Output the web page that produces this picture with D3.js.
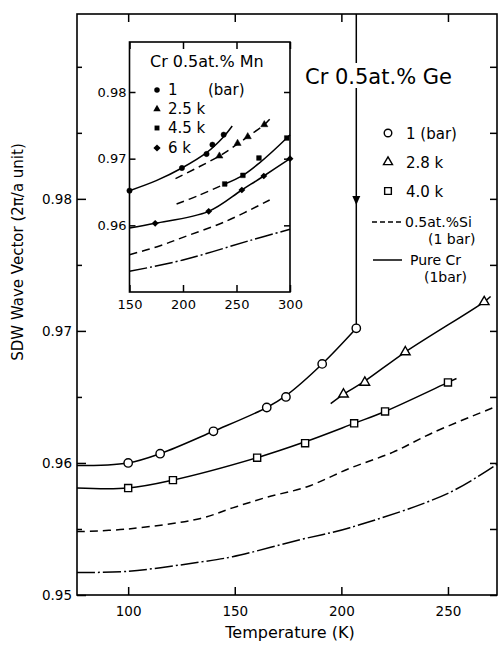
<!DOCTYPE html>
<html><head><meta charset="utf-8">
<script src="https://cdn.jsdelivr.net/npm/d3@7"></script>
<style>
html,body{margin:0;padding:0;background:#fff;}
svg{display:block;font-family:"DejaVu Sans",sans-serif;}
</style></head>
<body>
<svg id="c" width="501" height="645"></svg>
<script>
// ---------- main chart data (Cr 0.5 at.% Ge) ----------
const xTicks = [100, 150, 200, 250];
const yTicks = [0.95, 0.96, 0.97, 0.98];
const yMinor = [0.955, 0.965, 0.975, 0.985, 0.99];
const ge1barPts = [[100,0.9600],[115,0.9607],[140,0.9624],[165,0.9642],[174,0.9650],[191,0.9675],[207,0.9702]];
const ge1barLine = [[76,0.9598],[100,0.9600],[115,0.9607],[140,0.9624],[165,0.9642],[174,0.9651],[191,0.9675],[207,0.9702]];
const ge28Pts = [[201,0.9652],[211,0.9661],[230,0.9684],[267,0.9722]];
const ge28Line = [[195,0.9645],[201,0.9652],[211,0.9662],[230,0.9684],[267,0.9722],[270,0.9726]];
const ge40Pts = [[100,0.9581],[121,0.9587],[160.5,0.9604],[183,0.9615],[206,0.9630],[220.5,0.9639],[250,0.9661]];
const ge40Line = [[76,0.9581],[100,0.9581],[121,0.9587],[160.5,0.9604],[183,0.9616],[206,0.9630],[220.5,0.9639],[250,0.9661],[254,0.9664]];
const si1barLine = [[76,0.9548],[100,0.9550],[134,0.9558],[149,0.9566],[165,0.9574],[184,0.9582],[204,0.9596],[224,0.9608],[243,0.9623],[273,0.9643]];
const pureCrLine = [[76,0.9517],[100,0.9518],[134,0.9525],[149,0.9529],[181,0.9542],[204,0.9551],[250,0.9577],[273,0.9599]];
const transitionT = 207;

// ---------- inset data (Cr 0.5 at.% Mn) ----------
const inXTicks = [150, 200, 250, 300];
const inYTicks = [0.96, 0.97, 0.98];
const mn1Pts = [[150,0.9652],[199,0.9686],[222,0.9707],[227.5,0.9721],[238,0.9736]];
const mn1Line = [[150,0.9652],[175,0.9667],[199,0.9686],[222,0.9709],[238,0.9733],[246,0.9749]];
const mn25Pts = [[234,0.9704],[251,0.9723],[260.5,0.9733],[276,0.9751]];
const mn25Line = [[193,0.9670],[234,0.9704],[251,0.9722],[260.5,0.9733],[276,0.9751],[281,0.9759]];
const mn45Pts = [[239,0.9662],[256,0.9675],[271,0.9701],[297,0.9731]];
const mn45Dash = [[194,0.9632],[215,0.9645],[239,0.9662]];
const mn45Line = [[239,0.9662],[256,0.9675],[271,0.9693],[297,0.9731],[300,0.9736]];
const mn6Pts = [[174,0.9603],[224,0.9621],[255,0.9653],[275.5,0.9674],[300,0.9700]];
const mn6Line = [[150,0.9596],[174,0.9603],[224,0.9621],[255,0.9653],[275.5,0.9674],[300,0.9700]];
const inSiLine = [[150,0.9556],[178,0.9569],[200,0.9582],[240,0.9606],[281,0.9638]];
const inCrLine = [[150,0.9531],[200,0.9548],[262,0.9577],[300,0.9594]];

const svg = d3.select("#c");
const x = d3.scaleLinear().domain([76, 273]).range([77, 497]);
const y = d3.scaleLinear().domain([0.95, 0.994]).range([595, 14]);
const ix = d3.scaleLinear().domain([150, 300]).range([129.5, 290]);
const iy = d3.scaleLinear().domain([0.95, 0.9875]).range([292, 42]);

const DASH = "8,5";
const DASHDOT = "18,3,2,3";

function drawLine(g, data, sx, sy, dash, w) {
  const ln = d3.line().x(d => sx(d[0])).y(d => sy(d[1])).curve(d3.curveCatmullRom.alpha(0.5));
  g.append("path").attr("d", ln(data)).attr("fill", "none").attr("stroke", "#000")
    .attr("stroke-width", w || 1.5).attr("stroke-dasharray", dash || null);
}
function drawMarks(g, data, sx, sy, type, size, filled) {
  g.selectAll(null).data(data).enter().append("path")
    .attr("transform", d => `translate(${sx(d[0])},${sy(d[1])})`)
    .attr("d", d3.symbol().type(type).size(size))
    .attr("fill", filled ? "#000" : "#fff").attr("stroke", "#000").attr("stroke-width", filled ? 0.5 : 1.4);
}

// ---------- main axes ----------
const gm = svg.append("g");
gm.append("rect").attr("x", x(76)).attr("y", y(0.994)).attr("width", x(273) - x(76)).attr("height", y(0.95) - y(0.994))
  .attr("fill", "none").attr("stroke", "#000").attr("stroke-width", 1.6);

const ax = d3.axisBottom(x).tickValues(xTicks).tickSize(-8).tickPadding(11).tickFormat(d3.format("d"));
gm.append("g").attr("transform", `translate(0,${y(0.95)})`).call(ax);
const axTop = d3.axisTop(x).tickValues(xTicks).tickSize(-8).tickFormat("");
gm.append("g").attr("transform", `translate(0,${y(0.994)})`).call(axTop);

const ay = d3.axisLeft(y).tickValues(yTicks).tickSize(-9).tickPadding(5).tickFormat(d3.format(".2f"));
gm.append("g").attr("transform", `translate(${x(76)},0)`).call(ay);
gm.append("g").attr("transform", `translate(${x(76)},0)`).call(d3.axisLeft(y).tickValues(yMinor).tickSize(-5).tickFormat(""));
gm.append("g").attr("transform", `translate(${x(273)},0)`).call(d3.axisRight(y).tickValues(yTicks.concat(yMinor)).tickSize(-7).tickFormat(""));

gm.selectAll(".domain").attr("stroke", "none");
gm.selectAll(".tick line").attr("stroke", "#000").attr("stroke-width", 1.5);
gm.selectAll(".tick text").attr("font-family", "DejaVu Sans").attr("font-size", 13.5).attr("fill", "#000");

// axis titles
svg.append("text").attr("x", 290).attr("y", 638).attr("text-anchor", "middle")
  .attr("font-size", 16).text("Temperature (K)");
svg.append("text").attr("transform", "translate(23,252) rotate(-90)").attr("text-anchor", "middle")
  .attr("font-size", 15).text("SDW Wave Vector (2\u03C0/a unit)");

// ---------- main curves ----------
const gc = svg.append("g");
drawLine(gc, ge1barLine, x, y);
drawLine(gc, ge28Line, x, y);
drawLine(gc, ge40Line, x, y);
drawLine(gc, si1barLine, x, y, DASH);
drawLine(gc, pureCrLine, x, y, DASHDOT);
drawMarks(gc, ge1barPts, x, y, d3.symbolCircle, 55, false);
drawMarks(gc, ge28Pts, x, y, d3.symbolTriangle, 40, false);
drawMarks(gc, ge40Pts, x, y, d3.symbolSquare, 50, false);

// transition line with arrow
const tx = x(transitionT);
const titleTop = 63, titleBot = 88;
gc.append("line").attr("x1", tx).attr("x2", tx).attr("y1", y(0.994)).attr("y2", titleTop).attr("stroke", "#000").attr("stroke-width", 1.5);
gc.append("line").attr("x1", tx).attr("x2", tx).attr("y1", titleBot).attr("y2", y(0.9702) - 4).attr("stroke", "#000").attr("stroke-width", 1.5);
const ay0 = 205;
gc.append("path").attr("d", `M${tx - 4},${ay0 - 9}L${tx + 4},${ay0 - 9}L${tx},${ay0}Z`).attr("fill", "#000");

// title
svg.append("text").attr("x", 305).attr("y", 84).attr("font-size", 21).text("Cr 0.5at.% Ge");

// main legend
const lg = svg.append("g").attr("font-size", 15);
const legRows = [
  {sym: d3.symbolCircle, size: 45, label: "1 (bar)", yy: 134},
  {sym: d3.symbolTriangle, size: 35, label: "2.8 k", yy: 163},
  {sym: d3.symbolSquare, size: 45, label: "4.0 k", yy: 192}
];
legRows.forEach(r => {
  lg.append("path").attr("transform", `translate(388,${r.yy - 1})`).attr("d", d3.symbol().type(r.sym).size(r.size))
    .attr("fill", "#fff").attr("stroke", "#000").attr("stroke-width", 1.4);
  lg.append("text").attr("x", 406).attr("y", r.yy + 5).text(r.label);
});
lg.append("line").attr("x1", 372).attr("x2", 404).attr("y1", 222).attr("y2", 222).attr("stroke", "#000").attr("stroke-width", 1.5).attr("stroke-dasharray", "5,3");
lg.append("text").attr("x", 405).attr("y", 227).attr("font-size", 14).text("0.5at.%Si");
lg.append("text").attr("x", 428).attr("y", 244).attr("font-size", 14).text("(1 bar)");
lg.append("line").attr("x1", 373).attr("x2", 402).attr("y1", 260).attr("y2", 260).attr("stroke", "#000").attr("stroke-width", 1.5);
lg.append("text").attr("x", 410).attr("y", 265).attr("font-size", 14).text("Pure Cr");
lg.append("text").attr("x", 424).attr("y", 282).attr("font-size", 14).text("(1bar)");

// ---------- inset ----------
const gi = svg.append("g");
gi.append("rect").attr("x", ix(150)).attr("y", iy(0.9875)).attr("width", ix(300) - ix(150)).attr("height", iy(0.95) - iy(0.9875))
  .attr("fill", "#fff").attr("stroke", "#000").attr("stroke-width", 1.6);
const gia = gi.append("g");
gia.append("g").attr("transform", `translate(0,${iy(0.95)})`)
  .call(d3.axisBottom(ix).tickValues(inXTicks).tickSize(-7).tickPadding(8).tickFormat(d3.format("d")));
gia.append("g").attr("transform", `translate(0,${iy(0.9875)})`)
  .call(d3.axisTop(ix).tickValues(inXTicks).tickSize(-7).tickFormat(""));
gia.append("g").attr("transform", `translate(${ix(150)},0)`)
  .call(d3.axisLeft(iy).tickValues(inYTicks).tickSize(-6).tickPadding(3).tickFormat(d3.format(".2f")));
gia.append("g").attr("transform", `translate(${ix(300)},0)`)
  .call(d3.axisRight(iy).tickValues(inYTicks).tickSize(-6).tickFormat(""));
gia.selectAll(".domain").attr("stroke", "none");
gia.selectAll(".tick line").attr("stroke", "#000").attr("stroke-width", 1.5);
gia.selectAll(".tick text").attr("font-family", "DejaVu Sans").attr("font-size", 13).attr("fill", "#000");

drawLine(gi, mn1Line, ix, iy);
drawLine(gi, mn25Line, ix, iy, DASH);
drawLine(gi, mn45Dash, ix, iy, DASH);
drawLine(gi, mn45Line, ix, iy);
drawLine(gi, mn6Line, ix, iy);
drawLine(gi, inSiLine, ix, iy, DASH);
drawLine(gi, inCrLine, ix, iy, DASHDOT);
drawMarks(gi, mn1Pts, ix, iy, d3.symbolCircle, 22, true);
drawMarks(gi, mn25Pts, ix, iy, d3.symbolTriangle, 22, true);
drawMarks(gi, mn45Pts, ix, iy, d3.symbolSquare, 22, true);
gi.selectAll(null).data(mn6Pts).enter().append("path")
  .attr("transform", d => `translate(${ix(d[0])},${iy(d[1])}) scale(1.6,0.9)`)
  .attr("d", d3.symbol().type(d3.symbolDiamond).size(16)).attr("fill", "#000");

gi.append("text").attr("x", 150).attr("y", 67).attr("font-size", 16).text("Cr 0.5at.% Mn");
const inLeg = [
  {sym: d3.symbolCircle, label: "1", yy: 90, sx: 1},
  {sym: d3.symbolTriangle, label: "2.5 k", yy: 109, sx: 1},
  {sym: d3.symbolSquare, label: "4.5 k", yy: 128, sx: 1},
  {sym: d3.symbolDiamond, label: "6 k", yy: 148, sx: 1.6}
];
inLeg.forEach(r => {
  gi.append("path").attr("transform", `translate(157,${r.yy}) scale(${r.sx},${r.sx > 1 ? 0.9 : 1})`)
    .attr("d", d3.symbol().type(r.sym).size(r.sx > 1 ? 18 : 24)).attr("fill", "#000");
  gi.append("text").attr("x", 168).attr("y", r.yy + 5).attr("font-size", 15).text(r.label);
});
gi.append("text").attr("x", 208).attr("y", 95).attr("font-size", 15).text("(bar)");
</script>
</body></html>
